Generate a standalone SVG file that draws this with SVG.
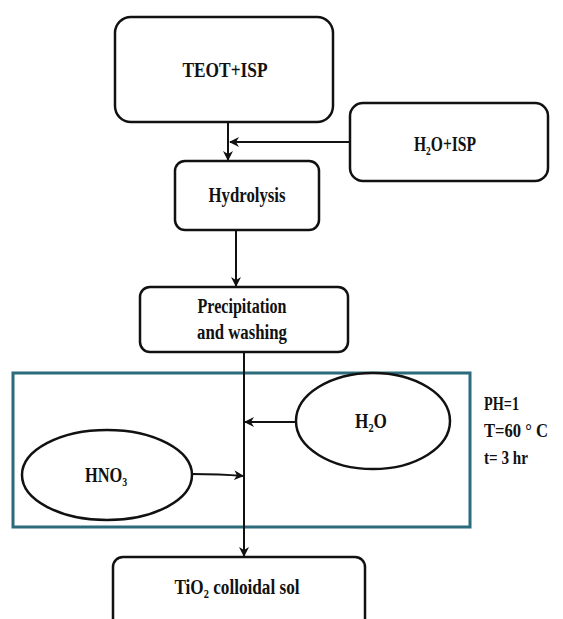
<svg xmlns="http://www.w3.org/2000/svg" width="563" height="619" viewBox="0 0 563 619">
<style>
.box{fill:#fff;stroke:#111;stroke-width:2.5}
.ell{fill:#fff;stroke:#111;stroke-width:2.5}
.t{font-family:"Liberation Serif","Times New Roman",serif;font-weight:bold;font-size:20px;fill:#111;text-anchor:middle}
.s{font-family:"Liberation Serif","Times New Roman",serif;font-weight:bold;font-size:19px;fill:#111}
.sub{font-size:12px}
.c{fill:none;stroke:#111;stroke-width:2;marker-end:url(#ah)}
</style>
<defs>
<marker id="ah" viewBox="0 0 10 10" refX="9" refY="5" markerWidth="5" markerHeight="5" orient="auto" markerUnits="strokeWidth">
<path d="M0,0 L10,5 L0,10 L3,5 Z" fill="#111"/>
</marker>
</defs>
<rect x="13" y="373" width="457" height="154" fill="none" stroke="#2b6b7b" stroke-width="3"/>
<g id="teot"><rect class="box" x="115" y="17" width="218" height="105" rx="16"/><text class="t" x="225" y="77" textLength="85" lengthAdjust="spacingAndGlyphs">TEOT+ISP</text></g>
<g id="h2oisp"><rect class="box" x="350" y="103" width="198" height="78" rx="13"/><text class="t" transform="translate(445,151) scale(0.78,1)">H<tspan class="sub" dy="4">2</tspan><tspan dy="-4">O+ISP</tspan></text></g>
<g id="hydrolysis"><rect class="box" x="175" y="161" width="144" height="69" rx="10"/><text class="t" x="247" y="202" textLength="77" lengthAdjust="spacingAndGlyphs">Hydrolysis</text></g>
<g id="precip"><rect class="box" x="140" y="287" width="208" height="65" rx="10"/><text class="t" x="242" y="313" textLength="89" lengthAdjust="spacingAndGlyphs">Precipitation</text><text class="t" x="242" y="339" textLength="90" lengthAdjust="spacingAndGlyphs">and washing</text></g>
<g id="hno3"><ellipse class="ell" cx="107" cy="475" rx="85" ry="45"/><text class="t" transform="translate(106,482) scale(0.82,1)">HNO<tspan class="sub" dy="4">3</tspan></text></g>
<g id="h2o"><ellipse class="ell" cx="373" cy="421" rx="77" ry="48"/><text class="t" transform="translate(371,428) scale(0.86,1)">H<tspan class="sub" dy="4">2</tspan><tspan dy="-4">O</tspan></text></g>
<g id="conditions"><text class="s" x="484" y="410" textLength="35" lengthAdjust="spacingAndGlyphs">PH=1</text><text class="s" x="484" y="437" textLength="64" lengthAdjust="spacingAndGlyphs">T=60 ° C</text><text class="s" x="484" y="464" textLength="44" lengthAdjust="spacingAndGlyphs">t= 3 hr</text></g>
<g id="tio2"><rect class="box" x="113" y="557" width="252" height="80" rx="10"/><text class="t" transform="translate(237,594) scale(0.86,1)">TiO<tspan class="sub" dy="4">2</tspan><tspan dy="-4"> colloidal sol</tspan></text></g>
<g id="connectors">
<path class="c" d="M228,123 V160"/>
<path class="c" d="M350,142 H230"/>
<path class="c" d="M236,230 V286"/>
<path class="c" d="M244,352 V556"/>
<path class="c" d="M297,422 H245"/>
<path class="c" d="M192,474 Q220,474 243,476"/>
</g>
</svg>
